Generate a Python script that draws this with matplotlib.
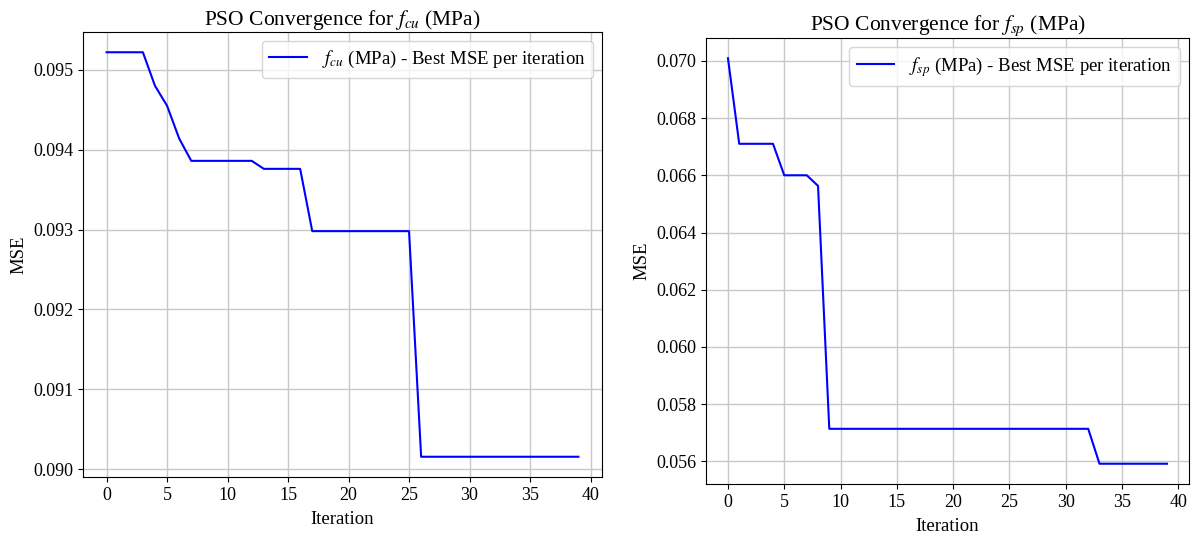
import matplotlib
matplotlib.use("Agg")
import matplotlib.pyplot as plt
from matplotlib.ticker import FormatStrFormatter

# best MSE per PSO iteration
iters = list(range(40))
mse_fcu = [0.09522, 0.09522, 0.09522, 0.09522, 0.09480, 0.09455, 0.09414, 0.09386,
           0.09386, 0.09386, 0.09386, 0.09386, 0.09386, 0.09376, 0.09376, 0.09376,
           0.09376, 0.09298, 0.09298, 0.09298, 0.09298, 0.09298, 0.09298, 0.09298,
           0.09298, 0.09298] + [0.090155] * 14
mse_fsp = [0.07009, 0.06710, 0.06710, 0.06710, 0.06710, 0.06600, 0.06600, 0.06600,
           0.06563] + [0.05714] * 24 + [0.05592] * 7

targets = ["cu", "sp"]

plt.rcParams['font.family'] = ['Liberation Serif', 'DejaVu Serif']
plt.rcParams['mathtext.fontset'] = 'stix'

fig = plt.figure(figsize=(11.94, 5.4), dpi=100)
ax1 = fig.add_axes([0.0695, 0.1167, 0.4347, 0.824])
ax2 = fig.add_axes([0.5913, 0.1037, 0.4045, 0.826])

for ax, vals, t, pad in [(ax1, mse_fcu, targets[0], 3), (ax2, mse_fsp, targets[1], 5)]:
    ax.plot(iters, vals, color='blue', lw=1.5,
            label=r'$f_{%s}$ (MPa) - Best MSE per iteration' % t)
    ax.set_title(r'PSO Convergence for $f_{%s}$ (MPa)' % t, fontsize=15.5, pad=pad)
    ax.set_xlabel('Iteration', fontsize=13.5, labelpad=5)
    ax.set_ylabel('MSE', fontsize=13.5)
    ax.tick_params(labelsize=13)
    ax.grid(True, color='#c8c8c8', lw=1)
    ax.legend(loc='upper right', fontsize=13.5)
    ax.set_xticks(range(0, 41, 5))
    ax.yaxis.set_major_formatter(FormatStrFormatter('%.3f'))

ax1.set_yticks([0.090, 0.091, 0.092, 0.093, 0.094, 0.095])

fig.savefig('out.png', dpi=100)
